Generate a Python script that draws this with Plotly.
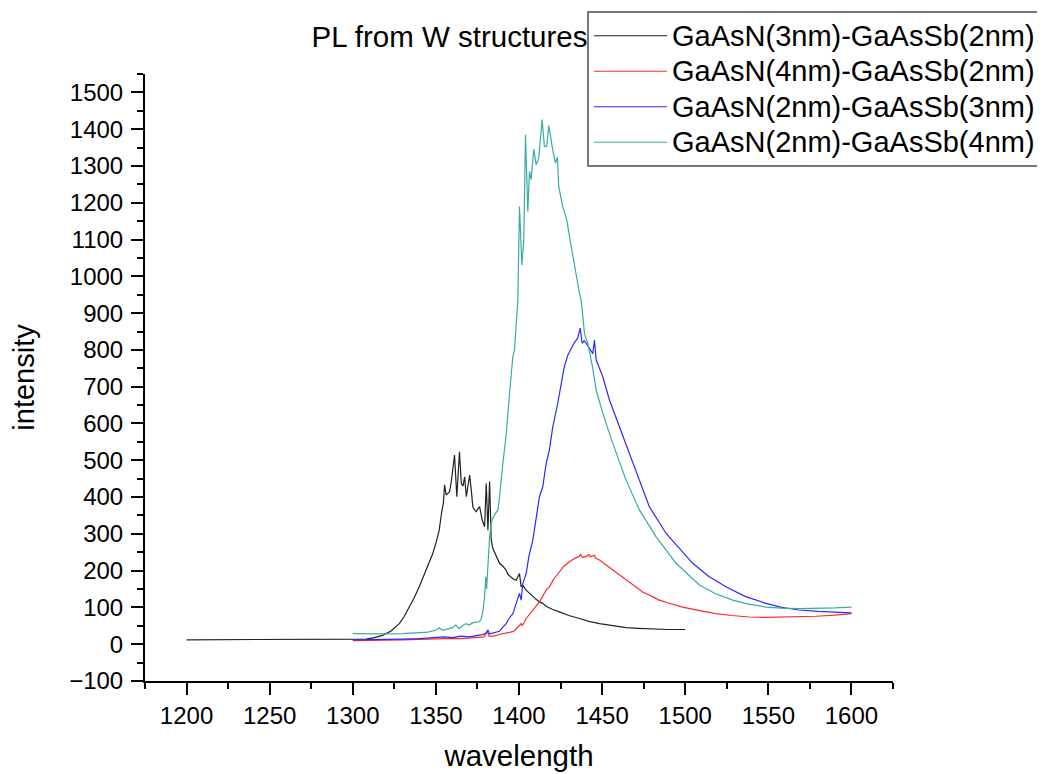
import plotly.graph_objects as go

# ---------------- data ----------------
black_x = [1200, 1210, 1220, 1225, 1235, 1250, 1260, 1270, 1280, 1290, 1300, 1308, 1313, 1318, 1323,
           1328, 1331, 1334, 1337, 1340, 1343, 1346, 1348, 1350, 1352, 1353.5, 1354.5, 1355.2, 1356.2,
           1357.2, 1358.2, 1359.2, 1360.2, 1361.2, 1362.6, 1363.5, 1364.2, 1365.3, 1366.3, 1367.3,
           1368.3, 1369.3, 1370.3, 1371.3, 1372.2, 1373.3, 1374.3, 1375.3, 1376.3, 1377.9, 1379.3,
           1380.3, 1381.3, 1382.3, 1383.3, 1384.3, 1386.3, 1388.3, 1390.3, 1392.3, 1393.3, 1395.3,
           1396.3, 1398.3, 1400.3, 1401.3, 1402.3, 1404.3, 1406.3, 1408.3, 1410.3, 1412.3, 1414.3,
           1416.3, 1420, 1424.3, 1430, 1436.4, 1442, 1448.4, 1456, 1464.4, 1472, 1480.4, 1490, 1500]
black_y = [12, 12, 13, 14, 12, 12, 12, 12, 12, 12, 13, 14, 18, 24, 36,
           56, 76, 100, 127, 156, 188, 220, 245, 274, 310, 360, 383, 433, 405,
           410, 414, 440, 473, 514, 401, 470, 523, 437, 430, 455,
           401, 430, 460, 419, 374, 365, 360, 368, 374, 337, 319,
           437, 310, 442, 283, 260, 242, 220, 212, 201, 190, 183,
           178, 174, 192, 156, 160, 147, 138, 129, 122, 115, 111,
           103, 95, 88, 78, 70, 62, 56, 50, 45, 43, 41, 40, 40]

red_x = [1300, 1310, 1320, 1330, 1340, 1350, 1355, 1360, 1365, 1370, 1375, 1379, 1381, 1382, 1385,
         1388.3, 1392, 1396.3, 1398, 1400.3, 1401.3, 1402, 1404.3, 1408.3, 1412.3, 1416.3, 1418.3,
         1421, 1424.4, 1427, 1430.4, 1433, 1436.4, 1437, 1438, 1440.4, 1442, 1443, 1445.4, 1446,
         1448.4, 1452, 1456.4, 1460, 1464.4, 1470, 1474.4, 1480, 1484.4, 1490, 1498.4, 1508, 1518.5,
         1528, 1538.5, 1548, 1558.5, 1568, 1578.6, 1590, 1600]
red_y = [10, 10, 11, 12, 13, 15, 14, 16, 15, 17, 18, 20, 35, 22, 22,
         27, 30, 34, 40, 52, 56, 50, 70, 92, 115, 147, 156,
         178, 197, 212, 224, 232, 239, 245, 236, 238, 244, 238, 242, 234,
         229, 217, 201, 188, 174, 157, 142, 130, 120, 112, 101, 92, 83,
         78, 74, 73, 74, 74, 76, 79, 83]

blue_x = [1300, 1310, 1320, 1330, 1340, 1350, 1355, 1360, 1365, 1370, 1375, 1378, 1380, 1381.3,
          1382.3, 1384, 1386.3, 1388.3, 1390, 1392.3, 1394, 1396.3, 1398.3, 1400.3, 1401.3, 1402.3,
          1404.3, 1406, 1408.3, 1410.3, 1412.3, 1414.3, 1416.3, 1418.3, 1420.3, 1423.3, 1425.3,
          1427.3, 1429.3, 1431.4, 1433.3, 1435.3, 1436.8, 1438, 1439.2, 1440.4, 1442.8, 1444.4,
          1445.4, 1446.4, 1448.4, 1450.4, 1454.4, 1460.4, 1468.4, 1478.4, 1488.5, 1504.5, 1514,
          1524.5, 1536, 1548.6, 1558, 1568.6, 1580, 1590, 1600]
blue_y = [12, 12, 13, 14, 15, 17, 20, 18, 22, 20, 24, 26, 30, 38,
          28, 30, 33, 35, 45, 56, 70, 83, 111, 138, 120, 165,
          192, 240, 283, 340, 401, 428, 490, 528, 590, 655, 710,
          755, 785, 805, 820, 832, 859, 818, 825, 818, 800, 790,
          827, 773, 750, 727, 664, 591, 492, 374, 301, 220, 185,
          156, 130, 111, 100, 93, 89, 86, 85]

teal_x = [1300, 1310, 1320, 1330, 1340, 1345, 1350, 1352, 1354, 1356, 1360, 1362, 1364, 1366, 1368,
          1370, 1372, 1374, 1376.3, 1377.3, 1378.2, 1379.3, 1380, 1380.5, 1381.3, 1382.3, 1383.3,
          1385, 1387.3, 1388.3, 1390.3, 1392.3, 1394.3, 1396.3, 1397.3, 1398.3, 1399.3, 1400.3,
          1401.7, 1402.9, 1403.9, 1405.3, 1406.3, 1407.3, 1408.9, 1410.3, 1411.9, 1413.9, 1415.3,
          1416.7, 1417.9, 1420.3, 1421.9, 1423.1, 1423.9, 1426.3, 1428.7, 1431.4, 1434.4, 1436.4,
          1437.4, 1438.4, 1439.4, 1440.4, 1441.4, 1444.4, 1446.4, 1450.4, 1456.4, 1464.4, 1472.4,
          1482.5, 1494.5, 1508.5, 1518, 1528.5, 1538, 1548.6, 1558, 1568.6, 1580, 1590, 1600]
teal_y = [29, 28, 28, 29, 31, 33, 38, 45, 38, 40, 45, 52, 42, 50, 56,
          52, 58, 60, 61, 70, 88, 129, 183, 150, 219, 292, 330,
          350, 365, 401, 492, 570, 682, 782, 800, 882, 936, 1190,
          1031, 1099, 1385, 1176, 1285, 1263, 1346, 1303, 1322, 1426, 1353,
          1353, 1410, 1344, 1308, 1324, 1244, 1190, 1154, 1081, 999, 954,
          936, 882, 845, 830, 818, 750, 691, 628, 546, 446, 365,
          292, 220, 161, 138, 120, 109, 101, 98, 97, 97, 99, 101]

names = ["GaAsN(3nm)-GaAsSb(2nm)", "GaAsN(4nm)-GaAsSb(2nm)",
         "GaAsN(2nm)-GaAsSb(3nm)", "GaAsN(2nm)-GaAsSb(4nm)"]
colors = ["#222222", "#ff2a2a", "#2a2aff", "#3aaaa2"]

FONT = "Liberation Sans, Arial, sans-serif"

fig = go.Figure()
for xs, ys, nm, col in zip([black_x, red_x, blue_x, teal_x],
                           [black_y, red_y, blue_y, teal_y], names, colors):
    fig.add_trace(go.Scatter(x=xs, y=ys, mode="lines",
                             name='<span style="font-size:29px">' + nm + '</span>',
                             line=dict(color=col, width=1.2)))

axis_common = dict(
    showline=True, linecolor="black", linewidth=2, mirror=False,
    ticks="outside", ticklen=12, tickwidth=1.5, tickcolor="black",
    showgrid=False, zeroline=False,
    tickfont=dict(family=FONT, size=24, color="black"),
)

# page is offset by the 8px body margin, plot area on page: x 145..893, y 74..681
L, R, T, B = 137, 1045 - 885, 66, 774 - 673

fig.update_layout(
    width=1045, height=774,
    margin=dict(l=L, r=R, t=T, b=B, autoexpand=False),
    paper_bgcolor="white", plot_bgcolor="white",
    font=dict(family=FONT, color="black"),
    title=dict(text="PL from W structures", font=dict(family=FONT, size=29.5, color="black"),
               xref="container", yref="container", x=441.5 / 1045, xanchor="center",
               y=1 - 29 / 774, yanchor="middle"),
    xaxis=dict(range=[1175, 1625], tick0=1200, dtick=50,
               minor=dict(ticks="outside", ticklen=6, tickwidth=1.5, tickcolor="black",
                          dtick=25, tick0=1175),
               title=dict(text="wavelength", font=dict(family=FONT, size=29.5, color="black"),
                          standoff=18),
               **axis_common),
    yaxis=dict(range=[-100, 1550], tick0=0, dtick=100, ticklabelstandoff=3,
               minor=dict(ticks="outside", ticklen=6, tickwidth=1.5, tickcolor="black",
                          dtick=50, tick0=0),
               title=dict(text="intensity", font=dict(family=FONT, size=29, color="black"),
                          standoff=27),
               **axis_common),
    legend=dict(xref="container", yref="container",
                x=579 / 1045, y=1 - 3 / 774, xanchor="left", yanchor="top",
                bgcolor="white", bordercolor="#777777", borderwidth=2,
                font=dict(family=FONT, size=25, color="black"),
                itemwidth=73, tracegroupgap=0),
    showlegend=True,
)

fig.write_html("out.html")
